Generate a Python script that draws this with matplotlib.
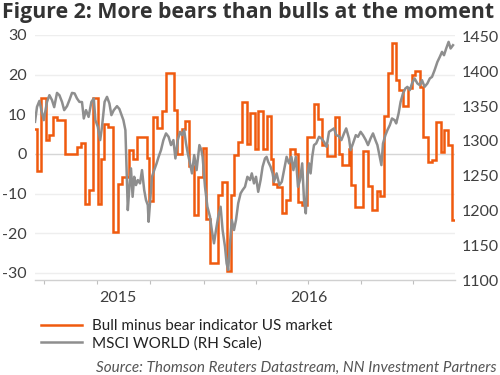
import matplotlib
matplotlib.use("Agg")
import matplotlib.pyplot as plt

# x axis unit = weeks from the start of the chart (about two years of data)
ORANGE_WEEK = [0.0, 0.4, 1.5, 2.7, 3.6, 4.6, 5.6, 7.5, 10.4, 11.4,
               12.5, 13.6, 14.6, 15.7, 16.6, 17.3, 18.3, 19.6, 20.7, 21.7,
               23.5, 24.5, 25.5, 27.9, 28.6, 29.6, 30.6, 31.7, 32.75, 34.75,
               35.6, 36.7, 37.6, 38.6, 39.75, 40.8, 41.9, 42.8, 43.85, 45.8,
               46.8, 47.9, 48.9, 49.8, 50.8, 51.8, 52.9, 53.75, 55.0, 55.8,
               56.9, 57.9, 59.0, 59.6, 60.6, 61.7, 62.7, 63.75, 65.0, 65.8,
               66.8, 68.1, 69.75, 70.8, 71.7, 72.9, 75.0, 76.0, 76.8, 78.5,
               79.0, 80.0, 82.1, 83.2, 84.2, 85.4, 86.25, 87.3, 88.2, 89.2,
               90.2, 91.1, 92.1, 93.2, 94.2, 95.0, 96.25, 97.1, 98.2, 99.3,
               100.25, 101.5, 102.3, 103.3, 104.2, 104.8]
ORANGE_VAL = [6.2, -4.4, 14.0, 3.4, 4.7, 9.2, 8.5, 0.1, 1.7, 2.8,
              -12.7, -9.0, 14.0, -12.6, -1.2, 7.5, 6.8, -19.7, -7.5, -5.8,
              1.0, -1.2, 4.2, -1.0, -11.8, 9.3, 6.5, 10.8, 20.3, 11.1,
              0.1, 6.4, 8.3, -3.0, -15.5, -5.8, 1.6, -16.3, -27.6, -10.3,
              -7.2, -29.5, -10.4, -0.3, 2.9, 13.1, 2.6, 10.2, 1.3, 10.8,
              1.3, 9.5, -1.2, -7.5, -8.4, -14.9, -11.7, 1.3, 0.1, -12.1,
              -13.0, 4.3, 12.5, 8.9, 2.2, -0.4, 9.2, 0.1, -2.9, 1.3,
              -7.9, -13.4, 0.7, -8.2, -14.2, -9.4, -10.7, 9.5, 20.3, 27.9,
              18.6, 16.2, 12.0, 16.7, 19.8, 20.9, 16.9, 4.3, -2.0, -1.6,
              8.1, 0.5, 6.1, 2.2, -16.6, -16.6]

GRAY_WEEK = [0.0, 0.5, 1.1, 1.6, 2.2, 3.0, 3.6, 4.25, 4.8, 5.5,
             6.1, 6.75, 7.3, 8.0, 8.6, 9.25, 9.9, 10.5, 11.1, 11.75,
             12.2, 12.75, 13.4, 14.1, 14.7, 15.1, 15.7, 16.3, 16.75, 17.4,
             18.0, 18.6, 19.1, 19.7, 20.5, 21.1, 21.5, 22.1, 22.6, 23.2,
             23.6, 24.0, 24.4, 24.8, 25.25, 25.7, 26.25, 26.75, 27.3, 27.75,
             28.2, 28.4, 28.8, 29.25, 29.8, 30.4, 30.9, 31.5, 32.1, 32.75,
             33.4, 34.0, 34.6, 35.1, 35.7, 36.25, 36.75, 37.3, 37.75, 38.2,
             38.75, 39.25, 39.8, 40.4, 41.1, 41.6, 41.9, 42.5, 43.1, 43.75,
             44.2, 44.75, 45.25, 45.8, 46.4, 46.9, 47.5, 47.9, 48.3, 48.75,
             49.2, 49.75, 50.25, 50.8, 51.4, 51.9, 52.5, 53.1, 53.75, 54.2,
             54.75, 55.25, 55.8, 56.4, 56.9, 57.5, 57.9, 58.3, 58.9, 59.4,
             59.75, 60.4, 61.1, 61.7, 62.25, 62.9, 63.5, 64.1, 64.6, 65.2,
             65.75, 66.25, 66.8, 67.25, 67.7, 68.1, 68.5, 68.9, 69.3, 69.75,
             70.3, 71.0, 71.6, 72.25, 72.9, 73.5, 74.1, 74.75, 75.3, 76.0,
             76.6, 77.25, 77.8, 78.5, 78.9, 79.5, 80.2, 80.75, 81.4, 82.0,
             82.7, 83.25, 83.9, 84.5, 85.1, 85.6, 86.2, 86.6, 87.0, 87.6,
             88.1, 88.7, 89.25, 89.9, 90.3, 90.9, 91.4, 92.0, 92.6, 93.1,
             93.7, 94.25, 94.9, 95.6, 96.2, 96.75, 97.4, 98.1, 98.7, 99.25,
             99.9, 100.6, 101.2, 101.75, 102.25, 102.8, 103.4, 103.9, 104.5]
GRAY_VAL = [1327.6, 1349.1, 1357.7, 1344.4, 1330, 1356.3, 1365.9, 1358.8, 1348.7, 1369.2,
            1365.9, 1356.3, 1344.4, 1350.1, 1358.8, 1369.2, 1368.4, 1361.2, 1356.3, 1356,
            1332.4, 1344.4, 1334.7, 1356.3, 1361.2, 1330, 1320.4, 1301.3, 1320.4, 1356.3,
            1363.5, 1354, 1337.2, 1344.4, 1350.1, 1346, 1339.6, 1330, 1315.6, 1200.6,
            1234.1, 1260.6, 1219.7, 1248.5, 1236.6, 1243.8, 1239, 1258.1, 1229.4, 1215,
            1207.8, 1183.8, 1215, 1248.5, 1258.1, 1267.8, 1277.2, 1286.9, 1301.3, 1310.9,
            1306, 1294.1, 1301.3, 1274.9, 1301.3, 1313.2, 1308.4, 1315.6, 1296.5, 1282.1,
            1267.8, 1253.4, 1279.7, 1258.1, 1294.1, 1286.9, 1277.2, 1234.1, 1205.4, 1191,
            1171.9, 1152.8, 1171.9, 1191, 1205.4, 1171.9, 1147.9, 1124, 1114.4, 1152.8,
            1186.3, 1171.9, 1186.3, 1210.3, 1224.6, 1229.4, 1234.1, 1248.5, 1243.8, 1253.4,
            1239, 1248.5, 1226.9, 1243.8, 1262.9, 1274.9, 1277.2, 1270.1, 1262.9, 1253.4,
            1241.3, 1253.4, 1236.6, 1241.3, 1258.1, 1277.2, 1267.8, 1277.2, 1258.1, 1277.2,
            1234.1, 1243.8, 1267.8, 1215, 1195.9, 1248.5, 1267.8, 1253.4, 1277.2, 1294.1,
            1296.5, 1306, 1303.7, 1298.8, 1291.6, 1313.2, 1315.6, 1318.1, 1308.4, 1307,
            1301.3, 1310.9, 1318.1, 1303.7, 1286.9, 1296.5, 1308.4, 1306, 1313.2, 1308.4,
            1301.3, 1294.1, 1303.7, 1310.9, 1301.3, 1294.1, 1277.2, 1265.3, 1296.5, 1308.4,
            1315.6, 1322.8, 1332.4, 1330, 1325.3, 1339.6, 1356.3, 1368.4, 1375.6, 1377.9,
            1373.1, 1382.8, 1390, 1382.8, 1380.3, 1387.5, 1377.9, 1382.8, 1390, 1392.2,
            1401.9, 1413.8, 1421, 1428.2, 1423.4, 1433.1, 1442.6, 1433.1, 1437.8]

LEFT_TICKS = [30, 20, 10, 0, -10, -20, -30]
RIGHT_TICKS = [1100, 1150, 1200, 1250, 1300, 1350, 1400, 1450]
X_TICKS = [2.25, 15.5, 28.75, 42.25, 55.25, 68.25, 81.5, 94.5]
YEAR_POS = [20.75, 68.4]
YEAR_LABELS = ["2015", "2016"]

TITLE = "Figure 2: More bears than bulls at the moment"
LABEL_ORANGE = "Bull minus bear indicator US market"
LABEL_GRAY = "MSCI WORLD (RH Scale)"
SOURCE = "Source: Thomson Reuters Datastream, NN Investment Partners"

COL_ORANGE = "#F05A0E"
COL_GRAY = "#8E8E8E"
COL_TEXT = "#3F3F3F"

plt.rcParams["font.family"] = ["Lato", "DejaVu Sans"]

fig = plt.figure(figsize=(5.0, 3.75), dpi=100)
ax = fig.add_axes([0.07, 0.2533, 0.84, 0.6534])
ax2 = ax.twinx()

for y in LEFT_TICKS:
    ax.axhline(y, color="#D6D6D6" if y == 0 else "#EEEEEE", lw=1.0, zorder=0)

(l1,) = ax.plot(ORANGE_WEEK, ORANGE_VAL, drawstyle="steps-post",
                color=COL_ORANGE, lw=1.8, label=LABEL_ORANGE,
                solid_joinstyle="miter")
(l2,) = ax2.plot(GRAY_WEEK, GRAY_VAL, color=COL_GRAY, lw=1.8, label=LABEL_GRAY)

ax.set_xlim(0, 105)
ax.set_ylim(-31.8, 30)
ax2.set_ylim(1100, 1452.5)

ax.set_yticks(LEFT_TICKS)
ax.set_yticklabels([str(v) for v in LEFT_TICKS])
ax2.set_yticks(RIGHT_TICKS)
ax2.set_yticklabels([str(v) for v in RIGHT_TICKS])

ax.set_xticks(X_TICKS)
ax.set_xticklabels([])
ax.set_xticks(YEAR_POS, minor=True)
ax.set_xticklabels(YEAR_LABELS, minor=True)
ax.tick_params(axis="x", which="major", length=3, color="#BFBFBF", width=0.8)
ax.tick_params(axis="x", which="minor", length=0, pad=8, labelsize=11.5,
               labelcolor=COL_TEXT)

ax.tick_params(axis="y", length=0, pad=6, labelsize=11.5, labelcolor=COL_TEXT)
ax2.tick_params(axis="y", length=0, pad=5, labelsize=11.5, labelcolor=COL_TEXT)

for a in (ax, ax2):
    for side in ("top", "left", "right", "bottom"):
        a.spines[side].set_visible(False)
ax.spines["bottom"].set_visible(True)
ax.spines["bottom"].set_color("#D0D0D0")
ax.spines["bottom"].set_linewidth(1.0)

fig.text(0.004, 0.966, TITLE, fontsize=15.3, fontweight="bold",
         family=["Open Sans", "DejaVu Sans"],
         color="#333333", ha="left", va="center")

fig.legend(handles=[l1, l2], loc="upper left", bbox_to_anchor=(0.066, 0.17),
           frameon=False, fontsize=11, handlelength=2.7, handletextpad=0.65,
           labelspacing=0.2, borderpad=0.0, labelcolor="#222222")

fig.text(0.994, 0.02, SOURCE, fontsize=11, style="italic",
         color="#555555", ha="right", va="center")

fig.savefig("out.png", dpi=100)
